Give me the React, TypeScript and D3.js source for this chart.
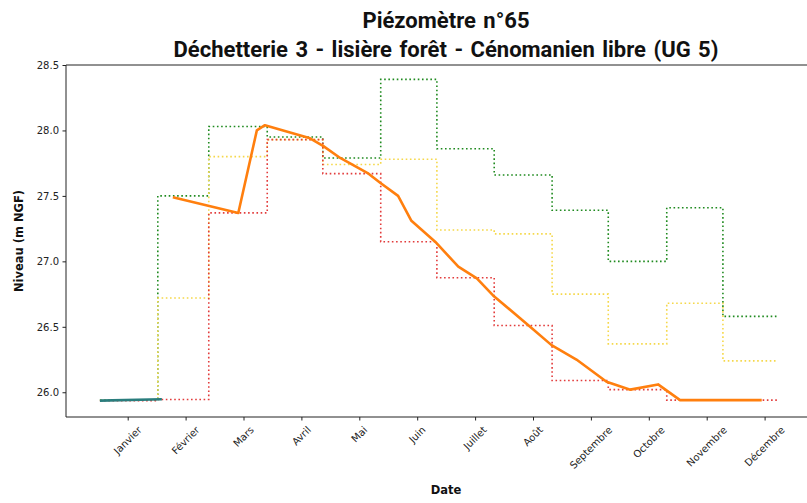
import { useEffect, useRef } from 'react';
import * as d3 from 'd3';

const W = 807;
const H = 503;
const plot = { left: 66, top: 65, right: 826, bottom: 417 };

const months = ['Janvier', 'Février', 'Mars', 'Avril', 'Mai', 'Juin', 'Juillet', 'Août', 'Septembre', 'Octobre', 'Novembre', 'Décembre'];
const yTicks = [26.0, 26.5, 27.0, 27.5, 28.0, 28.5];

// monthly statistics, step boundaries in month units (0 = Janvier tick)
const statBreaks = [-0.48, 0.52, 1.40, 2.41, 3.37, 4.37, 5.34, 6.33, 7.33, 8.30, 9.31, 10.28, 11.23];
const maxValues = [25.94, 27.50, 28.03, 27.95, 27.79, 28.39, 27.86, 27.66, 27.39, 27.00, 27.41, 26.58];
const meanValues = [25.94, 26.72, 27.80, 27.93, 27.74, 27.78, 27.24, 27.21, 26.75, 26.37, 26.68, 26.24];
const minValues = [25.935, 25.945, 27.37, 27.93, 27.67, 27.15, 26.875, 26.51, 26.09, 26.02, 25.94, 25.94];

// current year
const yearX = [0.78, 1.91, 2.23, 2.37, 3.15, 3.38, 3.67, 4.16, 4.36, 4.67, 4.90, 5.31, 5.71, 6.03, 6.31, 6.95, 7.32, 7.75, 8.27, 8.68, 9.16, 9.54, 10.95];
const yearValues = [27.49, 27.37, 28.00, 28.04, 27.94, 27.88, 27.79, 27.67, 27.60, 27.50, 27.31, 27.15, 26.96, 26.87, 26.74, 26.50, 26.36, 26.25, 26.08, 26.02, 26.06, 25.94, 25.94];

// previous record
const prevX = [-0.48, 0.59];
const prevValues = [25.936, 25.947];

const App = () => {
  const svgRef = useRef<SVGSVGElement>(null);

  useEffect(() => {
    const svg = d3.select(svgRef.current);
    svg.selectAll('*').remove();

    const x = d3.scaleLinear().domain([0, 11]).range([127.7, 764.6]);
    const y = d3.scaleLinear().domain([25.811, 28.5]).range([plot.bottom, plot.top]);

    svg.append('clipPath').attr('id', 'clip')
      .append('rect')
      .attr('x', plot.left).attr('y', plot.top)
      .attr('width', plot.right - plot.left).attr('height', plot.bottom - plot.top);

    const g = svg.append('g').attr('clip-path', 'url(#clip)');

    const step = d3.line<[number, number]>()
      .x(d => x(d[0]))
      .y(d => y(d[1]))
      .curve(d3.curveStepAfter);

    const stepData = (vals: number[]) => {
      const pts: [number, number][] = vals.map((v, i) => [statBreaks[i], v]);
      pts.push([statBreaks[statBreaks.length - 1], vals[vals.length - 1]]);
      return pts;
    };

    const stats = [
      { vals: maxValues, color: '#1f8a1f' },
      { vals: meanValues, color: '#f5d84a' },
      { vals: minValues, color: '#e23b3b' },
    ];
    stats.forEach(s => {
      g.append('path')
        .attr('d', step(stepData(s.vals)))
        .attr('fill', 'none')
        .attr('stroke', s.color)
        .attr('stroke-width', 1.6)
        .attr('stroke-dasharray', '1.6,2.6');
    });

    const line = d3.line<[number, number]>()
      .x(d => x(d[0]))
      .y(d => y(d[1]));

    g.append('path')
      .attr('d', line(yearX.map((v, i) => [v, yearValues[i]])))
      .attr('fill', 'none')
      .attr('stroke', '#ff7f0e')
      .attr('stroke-width', 2.6)
      .attr('stroke-linejoin', 'round');

    g.append('path')
      .attr('d', line(prevX.map((v, i) => [v, prevValues[i]])))
      .attr('fill', 'none')
      .attr('stroke', '#2a7d7d')
      .attr('stroke-width', 2.6);

    // spines
    const spine = svg.append('g').attr('stroke', '#222').attr('stroke-width', 1);
    spine.append('line').attr('x1', plot.left).attr('x2', plot.left).attr('y1', plot.top).attr('y2', plot.bottom);
    spine.append('line').attr('x1', plot.left).attr('x2', plot.right).attr('y1', plot.top).attr('y2', plot.top);
    spine.append('line').attr('x1', plot.left).attr('x2', plot.right).attr('y1', plot.bottom).attr('y2', plot.bottom);

    // y axis
    const yAxis = svg.append('g')
      .attr('transform', `translate(${plot.left},0)`)
      .call(d3.axisLeft(y).tickValues(yTicks).tickFormat(d3.format('.1f')).tickSize(3.5).tickPadding(3.5));
    yAxis.select('.domain').remove();
    yAxis.selectAll('line').attr('stroke', '#222');
    yAxis.selectAll('text').attr('font-family', 'DejaVu Sans').attr('font-size', 10).attr('fill', '#222');

    // x axis
    const xAxis = svg.append('g')
      .attr('transform', `translate(0,${plot.bottom})`)
      .call(d3.axisBottom(x).tickValues(d3.range(12)).tickFormat(() => '').tickSize(3.5));
    xAxis.select('.domain').remove();
    xAxis.selectAll('line').attr('stroke', '#222');

    const labels = svg.append('g')
      .attr('font-family', 'DejaVu Sans')
      .attr('font-size', 10)
      .attr('fill', '#222');
    months.forEach((m, i) => {
      const t = labels.append('text').text(m).attr('text-anchor', 'middle').attr('dy', '0.35em');
      const w = (t.node() as SVGTextElement).getComputedTextLength();
      const half = (w + 11.6) * Math.SQRT1_2 / 2;
      const cy = plot.bottom + 3.5 + 3.5 + half;
      t.attr('transform', `translate(${x(i)},${cy}) rotate(-45)`);
    });

    // labels
    svg.append('text')
      .attr('transform', `translate(19,${(plot.top + plot.bottom) / 2}) rotate(-90)`)
      .attr('text-anchor', 'middle')
      .attr('dy', '0.35em')
      .attr('font-family', 'DejaVu Sans')
      .attr('font-weight', 'bold')
      .attr('font-size', 11.5)
      .attr('fill', '#111')
      .text('Niveau (m NGF)');

    svg.append('text')
      .attr('x', (plot.left + plot.right) / 2)
      .attr('y', 494)
      .attr('text-anchor', 'middle')
      .attr('font-family', 'DejaVu Sans')
      .attr('font-weight', 'bold')
      .attr('font-size', 11.5)
      .attr('fill', '#111')
      .text('Date');

    const title = svg.append('g')
      .attr('font-family', 'Roboto')
      .attr('font-weight', 'bold')
      .attr('font-size', 22)
      .attr('word-spacing', 2)
      .attr('text-anchor', 'middle')
      .attr('fill', '#111');
    title.append('text').attr('x', (plot.left + plot.right) / 2).attr('y', 28).text('Piézomètre n°65');
    title.append('text').attr('x', (plot.left + plot.right) / 2).attr('y', 57).text('Déchetterie 3 - lisière forêt - Cénomanien libre (UG 5)');
  }, []);

  return (
    <svg ref={svgRef} width={W} height={H}
      style={{ position: 'fixed', left: 0, top: 0, background: '#fff' }} />
  );
};

export default App;
